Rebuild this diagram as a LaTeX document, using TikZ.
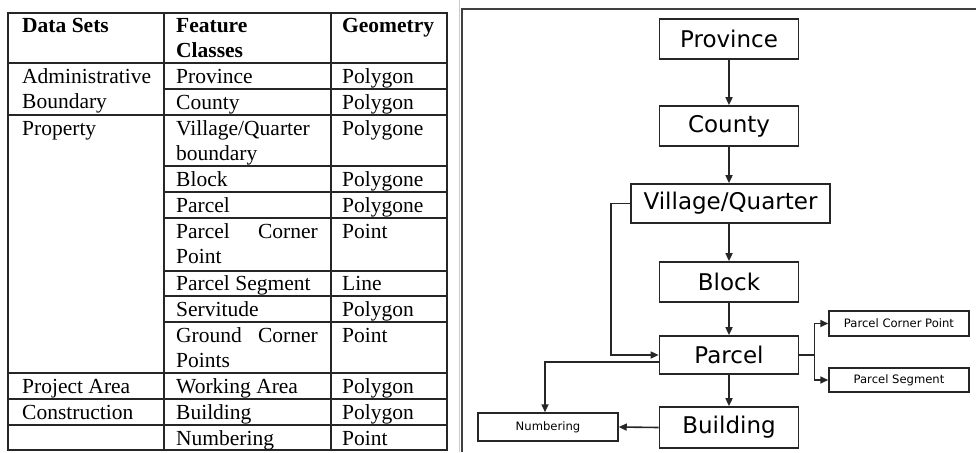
\documentclass[tikz,border=0pt]{standalone}
\usepackage{fontspec}
\setmainfont{Liberation Serif}
\newfontfamily\dvfont{DejaVu Sans}
\usetikzlibrary{arrows.meta}
\newcommand\tabfont{\fontsize{21.5}{25}\selectfont}
\newcommand\bigboxfont{\dvfont\fontsize{23}{26}\selectfont}
\newcommand\smallboxfont{\dvfont\fontsize{11.6}{14}\selectfont}
\tikzset{
  cell/.style={inner sep=0pt, anchor=base west, font=\tabfont},
  cellr/.style={inner sep=0pt, anchor=base east, font=\tabfont},
  head/.style={cell, font=\tabfont\bfseries},
  gridline/.style={line width=1.7pt, draw=black!85},
  bigbox/.style={draw=black!85, line width=1.7pt, inner sep=0pt, font=\bigboxfont},
  smallbox/.style={draw=black!85, line width=1.5pt, inner sep=0pt, font=\smallboxfont},
  conn/.style={line width=1.6pt, draw=black!85},
  arr/.style={conn, -{Triangle[length=8pt,width=7pt]}},
}
\begin{document}
\begin{tikzpicture}[x=1pt,y=-1pt]
\useasboundingbox (0,0) rectangle (976,452);
\fill[white] (0,0) rectangle (976,452);
% ---------- table ----------
\draw[gridline] (8,13) rectangle (447,450);
\draw[gridline] (164,13) -- (164,450);
\draw[gridline] (331,13) -- (331,450);
% full width rules
\foreach \yy in {63,115,373,399,425} \draw[gridline] (8,\yy) -- (447,\yy);
% rules in columns 2-3
\foreach \yy in {89,166,192,218,271,296,322} \draw[gridline] (164,\yy) -- (447,\yy);
% header
\node[head] (h1) at (22,33) {Data Sets};
\node[head] (h2a) at (176,33) {Feature};
\node[head] (h2b) at (176,58) {Classes};
\node[head] (h3) at (342,33) {Geometry};
% column 1
\node[cell] (d1a) at (22,83) {Administrative};
\node[cell] (d1b) at (22,108) {Boundary};
\node[cell] (d2) at (22,135) {Property};
\node[cell] (d3) at (22,393) {Project Area};
\node[cell] (d4) at (22,419) {Construction};
% column 2
\node[cell] (f1) at (176,83) {Province};
\node[cell] (f2) at (176,109) {County};
\node[cell] (f3a) at (176,135) {Village/Quarter};
\node[cell] (f3b) at (176,160) {boundary};
\node[cell] (f4) at (176,186) {Block};
\node[cell] (f5) at (176,212) {Parcel};
\node[cell] (f6a) at (176,238) {Parcel};
\node[cellr] (f6c) at (318,238) {Corner};
\node[cell] (f6b) at (176,263) {Point};
\node[cell] (f7) at (176,290) {Parcel Segment};
\node[cell] (f8) at (176,316) {Servitude};
\node[cell] (f9a) at (176,342) {Ground};
\node[cellr] (f9c) at (318,342) {Corner};
\node[cell] (f9b) at (176,367) {Points};
\node[cell] (f10) at (176,393) {Working Area};
\node[cell] (f11) at (176,419) {Building};
\node[cell] (f12) at (176,445) {Numbering};
% column 3
\node[cell] (g1) at (342,83) {Polygon};
\node[cell] (g2) at (342,109) {Polygon};
\node[cell] (g3) at (342,135) {Polygone};
\node[cell] (g4) at (342,186) {Polygone};
\node[cell] (g5) at (342,212) {Polygone};
\node[cell] (g6) at (342,238) {Point};
\node[cell] (g7) at (342,290) {Line};
\node[cell] (g8) at (342,316) {Polygon};
\node[cell] (g9) at (342,342) {Point};
\node[cell] (g10) at (342,393) {Polygon};
\node[cell] (g11) at (342,419) {Polygon};
\node[cell] (g12) at (342,445) {Point};
% separators
\draw[black!20, line width=0.8pt] (459,0) -- (459,452);
\draw[black!75, line width=1.2pt] (462,452) -- (462,9) -- (976,9);
% ---------- diagram ----------
\node[bigbox, minimum width=139pt, minimum height=40pt] (prov) at (729,39) {Province};
\node[bigbox, minimum width=139pt, minimum height=40pt] (cty) at (729,126) {County};
\node[bigbox, minimum width=199pt, minimum height=39pt] (vq) at (730.5,203.5) {Village/Quarter};
\node[bigbox, minimum width=139pt, minimum height=40pt] (blk) at (729,282) {Block};
\node[bigbox, minimum width=139pt, minimum height=38pt] (par) at (729,355) {Parcel};
\node[bigbox, minimum width=139pt, minimum height=41pt] (bld) at (729,427.5) {Building};
\node[smallbox, minimum width=140pt, minimum height=25pt] (pcp) at (899,323.5) {Parcel Corner Point};
\node[smallbox, minimum width=140pt, minimum height=24pt] (pseg) at (899,380) {Parcel Segment};
\node[smallbox, minimum width=140pt, minimum height=28pt] (num) at (548,427) {Numbering};
\draw[arr] (prov) -- (cty);
\draw[arr] (cty) -- (vq.north -| cty);
\draw[arr] (vq.south -| blk) -- (blk);
\draw[arr] (blk) -- (par);
\draw[arr] (par) -- (bld);
\draw[arr] (vq.west) -- ++(-19,0) |- (par.west);
\draw[arr] ([yshift=-7pt]par.west) -| ([xshift=-3pt]num.north);
\draw[arr] (bld.west) -- (num.east);
\draw[conn] (par.east) -- ++(15,0) coordinate (br);
\draw[arr] (br) |- (pcp.west);
\draw[arr] (br) |- (pseg.west);
\end{tikzpicture}
\end{document}
